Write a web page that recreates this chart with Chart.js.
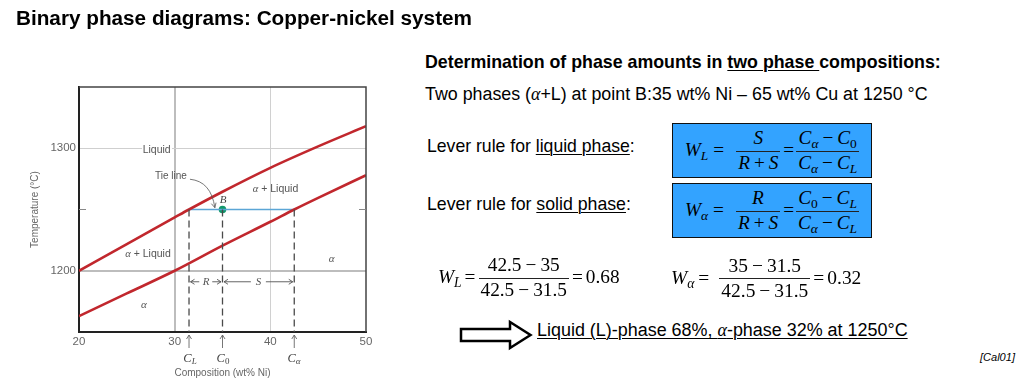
<!DOCTYPE html>
<html><head><meta charset="utf-8">
<script src="https://cdn.jsdelivr.net/npm/chart.js@4"></script>
<style>
html,body{margin:0;padding:0;background:#fff;}
body{width:1021px;height:382px;position:relative;overflow:hidden;font-family:"Liberation Sans",Arial,sans-serif;color:#000;}
#wrap{position:absolute;left:0;top:0;width:400px;height:382px;}
.t{position:absolute;white-space:nowrap;line-height:1;}
.b{font-weight:bold;}
.m{font-family:"Liberation Serif","DejaVu Serif",serif;font-style:italic;}
.up{font-style:normal;}
u{text-decoration-thickness:1.4px;text-underline-offset:2px;}
.lab{position:absolute;white-space:nowrap;line-height:1;transform:translate(-50%,-50%);color:#555;font-size:10.5px;}
.lab sub{font-size:0.72em;vertical-align:-0.3em;line-height:0;}
.box{position:absolute;left:672px;width:198px;height:53px;background:#33a3ff;border:1.5px solid #111;display:flex;align-items:center;justify-content:center;}
.fm{display:flex;align-items:center;white-space:nowrap;font-family:"Liberation Serif","DejaVu Serif",serif;font-size:19px;line-height:1.08;}
.fm.abs{position:absolute;}
.fm .v{font-style:italic;}
.fm sub{font-size:0.7em;vertical-align:-0.28em;line-height:0;}
.fr{display:inline-flex;flex-direction:column;align-items:stretch;text-align:center;}
.nu{border-bottom:1.4px solid #222;padding:0 2px 2px 2px;}
.de{padding:1px 2px 0 2px;}
.mo{margin:0 4px;font-style:normal;}
.eq{margin:0 3px;}
</style>
</head><body>
<div id="wrap"><canvas id="c"></canvas></div>

<!-- chart annotations -->
<div class="lab" style="left:156.7px;top:149px;background:#fff;padding:0 1px;">Liquid</div>
<div class="lab" style="left:171px;top:176px;font-size:10px;">Tie line</div>
<div class="lab m" style="left:223px;top:199px;font-size:11px;color:#444;">B</div>
<div class="lab" style="left:275.5px;top:189px;"><span class="m">α</span> + Liquid</div>
<div class="lab" style="left:148px;top:254px;"><span class="m">α</span> + Liquid</div>
<div class="lab m" style="left:331.7px;top:258px;font-size:11px;">α</div>
<div class="lab m" style="left:144px;top:304px;font-size:11px;">α</div>
<div class="lab m" style="left:206px;top:281px;font-size:11px;">R</div>
<div class="lab m" style="left:258.5px;top:281px;font-size:11px;">S</div>
<div class="lab m" style="left:190px;top:358px;font-size:12.5px;color:#444;">C<sub>L</sub></div>
<div class="lab m" style="left:223px;top:358px;font-size:12.5px;color:#444;">C<sub class="up">0</sub></div>
<div class="lab m" style="left:294px;top:358px;font-size:12.5px;color:#444;">C<sub>α</sub></div>

<!-- right side text -->
<div class="t b fit" data-cy="18.3" data-w="456" style="left:16px;font-size:20.7px;">Binary phase diagrams: Copper-nickel system</div>
<div class="t b fit" data-cy="62.5" data-w="516" style="left:425px;font-size:17px;">Determination of phase amounts in <u>two phase </u>compositions:</div>
<div class="t fit" data-cy="95" data-w="503" style="left:425px;font-size:17.5px;">Two phases (<span class="m">α</span>+L) at point B:35 wt% Ni – 65 wt% Cu at 1250 °C</div>
<div class="t fit" data-cy="147" data-w="208" style="left:427px;font-size:17.5px;">Lever rule for <u>liquid phase</u>:</div>
<div class="t fit" data-cy="205" data-w="204" style="left:427px;font-size:17.5px;">Lever rule for <u>solid phase</u>:</div>
<div class="t fit" data-cy="331" data-w="371" style="left:537px;font-size:17.5px;"><u>Liquid (L)-phase 68%, <span class="m">α</span>-phase 32% at 1250°C</u></div>
<div class="t fit" data-cy="358" data-w="35" style="left:980px;font-size:11.5px;font-style:italic;">[Cal01]</div>

<div class="box" style="top:123px;">
  <div class="fm ffit" data-w="175">
    <span class="v">W<sub>L</sub></span><span class="eq" style="margin:0 12px 0 5px;">=</span>
    <span class="fr"><span class="nu v">S</span><span class="de v">R<span class="mo">+</span>S</span></span>
    <span class="eq" style="margin:0 2px 0 3px;">=</span>
    <span class="fr"><span class="nu"><span class="v">C<sub>α</sub></span><span class="mo">−</span><span class="v">C</span><sub>0</sub></span><span class="de"><span class="v">C<sub>α</sub></span><span class="mo">−</span><span class="v">C<sub>L</sub></span></span></span>
  </div>
</div>
<div class="box" style="top:183px;">
  <div class="fm ffit" data-w="175">
    <span class="v">W<sub>α</sub></span><span class="eq" style="margin:0 12px 0 5px;">=</span>
    <span class="fr"><span class="nu v">R</span><span class="de v">R<span class="mo">+</span>S</span></span>
    <span class="eq" style="margin:0 2px 0 3px;">=</span>
    <span class="fr"><span class="nu"><span class="v">C</span><sub>0</sub><span class="mo">−</span><span class="v">C<sub>L</sub></span></span><span class="de"><span class="v">C<sub>α</sub></span><span class="mo">−</span><span class="v">C<sub>L</sub></span></span></span>
  </div>
</div>

<div class="fm abs ffit" data-w="185" data-cy="277.7" style="left:438px;font-size:17px;">
  <span class="v">W<sub>L</sub></span><span class="eq">=</span>
  <span class="fr"><span class="nu">42.5<span class="mo">−</span>35</span><span class="de">42.5<span class="mo">−</span>31.5</span></span>
  <span class="eq">=</span><span>0.68</span>
</div>
<div class="fm abs ffit" data-w="195" data-cy="277.7" style="left:671px;font-size:17px;">
  <span class="v">W<sub>α</sub></span><span class="eq" style="margin:0 10px 0 4px;">=</span>
  <span class="fr"><span class="nu">35<span class="mo">−</span>31.5</span><span class="de">42.5<span class="mo">−</span>31.5</span></span>
  <span class="eq">=</span><span>0.32</span>
</div>

<svg style="position:absolute;left:455px;top:318px;" width="82" height="34" viewBox="0 0 82 34">
  <polygon points="6,11 55,11 55,4 75.5,17 55,30 55,23 6,23" fill="#fff" stroke="#000" stroke-width="2.5" stroke-linejoin="miter"/>
</svg>

<script>
// ---- data ----
const compositionTicks = [20, 30, 40, 50];
const temperatureTicks = [1150, 1200, 1250, 1300, 1350];
const temperatureLabels = ['', '1200', '', '1300', ''];
const liquidusComp = [20, 25, 30, 31.5, 35, 40, 45, 50];
const liquidusTemp = [1200, 1221.7, 1243.5, 1250, 1264.5, 1284, 1301.5, 1318];
const solidusComp = [20, 25, 30, 35, 40, 42.5, 45, 50];
const solidusTemp = [1163, 1181.5, 1200, 1220.5, 1240, 1250, 1259.5, 1278];
const tieTemp = 1250;
const leverComp = [31.5, 35, 42.5];   // C_L, C_0, C_alpha
const pointB = [35, 1250];
const dimTemp = 1191;                 // R / S dimension line
const tieLabelArrow = [[31.6, 1274.7], [33.8, 1273], [34.2, 1251.5]]; // start, control, end

const pts = (xs, ys) => xs.map((x, i) => ({x, y: ys[i]}));

const datasets = [];
leverComp.forEach(c => datasets.push({
  data: [{x: c, y: tieTemp}, {x: c, y: 1150}],
  borderColor: '#4a4a4a', borderWidth: 1.3, borderDash: [7, 4], pointRadius: 0, fill: false
}));
datasets.push({data: pts(liquidusComp, liquidusTemp), borderColor: '#c1272d', borderWidth: 2.6,
  pointRadius: 0, cubicInterpolationMode: 'monotone', fill: false});
datasets.push({data: pts(solidusComp, solidusTemp), borderColor: '#c1272d', borderWidth: 2.6,
  pointRadius: 0, cubicInterpolationMode: 'monotone', fill: false});
datasets.push({data: [{x: leverComp[0], y: tieTemp}, {x: leverComp[2], y: tieTemp}],
  borderColor: '#5ba6d6', borderWidth: 1.5, pointRadius: 0, fill: false});
datasets.push({data: [{x: pointB[0], y: pointB[1]}], showLine: false, pointRadius: 3.8,
  pointBackgroundColor: '#12986b', pointBorderWidth: 0});

const annot = {
  id: 'annot',
  afterDraw(chart) {
    const {ctx, chartArea: a, scales: {x, y}} = chart;
    ctx.save();
    ctx.strokeStyle = '#444'; ctx.lineWidth = 1.5;
    ctx.beginPath(); ctx.moveTo(a.left, a.top); ctx.lineTo(a.right, a.top); ctx.lineTo(a.right, a.bottom); ctx.stroke();
    ctx.strokeStyle = '#888'; ctx.lineWidth = 1;
    const yt = y.getPixelForValue(1250);
    ctx.beginPath(); ctx.moveTo(a.left, yt); ctx.lineTo(a.left + 7, yt);
    ctx.moveTo(a.right - 7, yt); ctx.lineTo(a.right, yt); ctx.stroke();
    ctx.strokeStyle = '#555'; ctx.lineWidth = 0.9;
    const yd = y.getPixelForValue(dimTemp);
    const seg = (c1, c2, gap) => {
      const x1 = x.getPixelForValue(c1) + 1.5, x2 = x.getPixelForValue(c2) - 1.5, m = (x1 + x2) / 2;
      ctx.beginPath();
      ctx.moveTo(x1, yd); ctx.lineTo(m - gap, yd); ctx.moveTo(m + gap, yd); ctx.lineTo(x2, yd);
      ctx.moveTo(x1 + 4, yd - 2.5); ctx.lineTo(x1, yd); ctx.lineTo(x1 + 4, yd + 2.5);
      ctx.moveTo(x2 - 4, yd - 2.5); ctx.lineTo(x2, yd); ctx.lineTo(x2 - 4, yd + 2.5);
      ctx.stroke();
    };
    seg(leverComp[0], leverComp[1], 6.5);
    seg(leverComp[1], leverComp[2], 7.5);
    const [p0, p1, p2] = tieLabelArrow.map(p => [x.getPixelForValue(p[0]), y.getPixelForValue(p[1])]);
    ctx.strokeStyle = '#555'; ctx.lineWidth = 0.8;
    ctx.beginPath(); ctx.moveTo(p0[0], p0[1]); ctx.quadraticCurveTo(p1[0], p1[1], p2[0], p2[1]); ctx.stroke();
    ctx.beginPath(); ctx.moveTo(p2[0] - 3.5, p2[1] - 4); ctx.lineTo(p2[0], p2[1]); ctx.lineTo(p2[0] + 1.2, p2[1] - 5); ctx.stroke();
    ctx.strokeStyle = '#666'; ctx.lineWidth = 0.9;
    leverComp.forEach(c => {
      const xp = x.getPixelForValue(c), top = a.bottom + 3, bot = a.bottom + 16;
      ctx.beginPath(); ctx.moveTo(xp, bot); ctx.lineTo(xp, top);
      ctx.moveTo(xp - 2.5, top + 4); ctx.lineTo(xp, top); ctx.lineTo(xp + 2.5, top + 4); ctx.stroke();
    });
    ctx.restore();
  }
};

new Chart(document.getElementById('c'), {
  type: 'line',
  data: {datasets},
  plugins: [annot],
  options: {
    responsive: true, maintainAspectRatio: false, animation: false,
    layout: {padding: {left: 0, top: 87, right: 34, bottom: 0}},
    plugins: {legend: {display: false}, tooltip: {enabled: false}},
    scales: {
      x: {
        type: 'linear', min: 20, max: 50,
        afterBuildTicks: s => { s.ticks = compositionTicks.map(v => ({value: v})); },
        afterFit: s => { s.height = 50; },
        grid: {drawTicks: false,
          color: c => c.tick && c.tick.value === 30 ? '#bdbdbd' : (c.tick && c.tick.value === 40 ? '#d0d0d0' : 'rgba(0,0,0,0)'),
          lineWidth: c => c.tick && c.tick.value === 30 ? 2 : 1},
        border: {color: '#222', width: 2},
        ticks: {padding: 3, color: '#666', autoSkip: false, maxRotation: 0,
          font: {family: 'Liberation Sans', size: 11.5}},
        title: {display: true, text: 'Composition (wt% Ni)', color: '#666',
          font: {family: 'Liberation Sans', size: 10}, padding: {top: 0, bottom: 3}}
      },
      y: {
        type: 'linear', min: 1150, max: 1350,
        afterBuildTicks: s => { s.ticks = temperatureTicks.map(v => ({value: v})); },
        afterFit: s => { s.width = 79; },
        grid: {drawTicks: false,
          color: c => c.tick && c.tick.value === 1200 ? '#bdbdbd' : (c.tick && c.tick.value === 1300 ? '#cfcfcf' : 'rgba(0,0,0,0)'),
          lineWidth: c => c.tick && c.tick.value === 1200 ? 2 : 1},
        border: {color: '#222', width: 2},
        ticks: {padding: 3, color: '#666', autoSkip: false,
          callback: (v, i) => temperatureLabels[i],
          font: {family: 'Liberation Sans', size: 11.5}},
        title: {display: true, text: 'Temperature (°C)', color: '#666',
          font: {family: 'Liberation Sans', size: 10}, padding: {top: 29, bottom: 0}}
      }
    }
  }
});

function fitAll() {
  document.querySelectorAll('.fit').forEach(el => {
    const fs = parseFloat(el.style.fontSize);
    const w = el.getBoundingClientRect().width;
    const nfs = fs * parseFloat(el.dataset.w) / w;
    el.style.fontSize = nfs + 'px';
    el.style.top = (parseFloat(el.dataset.cy) - nfs / 2) + 'px';
  });
  document.querySelectorAll('.ffit').forEach(el => {
    const fs = parseFloat(getComputedStyle(el).fontSize);
    const w = el.getBoundingClientRect().width;
    el.style.fontSize = (fs * parseFloat(el.dataset.w) / w) + 'px';
    if (el.dataset.cy) {
      const h = el.getBoundingClientRect().height;
      el.style.top = (parseFloat(el.dataset.cy) - h / 2) + 'px';
    }
  });
}
fitAll();
</script>
</body></html>
